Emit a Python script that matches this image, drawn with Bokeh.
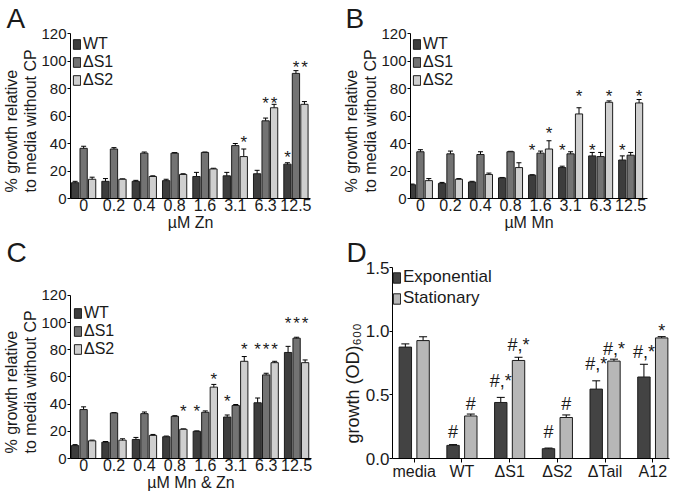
from bokeh.plotting import figure
from bokeh.models import (ColumnDataSource, Whisker, TeeHead, Legend, LegendItem,
                          FixedTicker, Range1d, NumeralTickFormatter, Title)
from bokeh.layouts import column, row
from bokeh.embed import file_html
from bokeh.resources import INLINE
from bokeh.core.properties import value

FONT = "Liberation Sans"
INK = "#1a1a1a"

# ---------------- data ----------------
doses = ["0", "0.2", "0.4", "0.8", "1.6", "3.1", "6.3", "12.5"]
strains = ["WT", "ΔS1", "ΔS2"]

# Panel A: µM Zn
zn_wt = [11.5, 12.5, 12.5, 13, 16, 16.5, 18, 25]
zn_wt_err = [1, 2, 0.7, 1, 3, 2.5, 2.5, 1]
zn_s1 = [36.5, 36, 33, 33, 33.5, 38.5, 56.5, 91]
zn_s1_err = [1.5, 1, 0.8, 0.4, 0.3, 1.5, 2, 2]
zn_s2 = [14, 14, 16, 17.5, 21.5, 30.5, 66, 68.5]
zn_s2_err = [1.5, 0.3, 0.5, 0.5, 0.5, 5.5, 2.5, 2]
zn_star_group = [5, 6, 6, 7, 7, 7]
zn_star_series = [2, 1, 2, 0, 1, 2]
zn_star_y = [43.5, 72, 72, 33, 98.5, 98.5]

# Panel B: µM Mn
mn_wt = [10, 11, 12, 15, 17, 22.5, 31, 28]
mn_wt_err = [0.5, 0.7, 0.5, 0.3, 0.3, 1, 2.5, 3]
mn_s1 = [34, 32.5, 32, 34, 33, 32.5, 30.5, 31.5]
mn_s1_err = [1.5, 2, 2, 0.3, 1.5, 1.5, 3, 2]
mn_s2 = [13, 14, 17.5, 22.5, 36, 61.5, 70, 69.5]
mn_s2_err = [1.5, 0.5, 1, 3.5, 6, 4.5, 1, 2.5]
mn_star_group = [4, 4, 5, 5, 6, 6, 7, 7]
mn_star_series = [0, 2, 0, 2, 0, 2, 0, 2]
mn_star_y = [38, 50, 38, 77, 38, 77, 38, 77]

# Panel C: µM Mn & Zn
mz_wt = [9.5, 12, 14, 16, 20, 30.5, 41, 78]
mz_wt_err = [0.7, 0.5, 1.5, 0.5, 0.3, 1.5, 3.5, 4.5]
mz_s1 = [36, 33.5, 33, 31, 34, 39, 61.5, 88.5]
mz_s1_err = [2, 0.3, 1.2, 0.5, 1, 0.7, 1.2, 0.7]
mz_s2 = [13, 13.5, 17, 21.5, 52.5, 71.5, 70.5, 70.5]
mz_s2_err = [0.5, 1, 0.7, 0.3, 2, 3.5, 1, 2]
mz_star_group = [3, 4, 4, 5, 5, 6, 6, 6, 7, 7, 7]
mz_star_series = [2, 0, 2, 0, 2, 0, 1, 2, 0, 1, 2]
mz_star_y = [37.5, 37.5, 61, 45, 83, 83, 83, 83, 102, 102, 102]

# Panel D: growth (OD)600
d_groups = ["media", "WT", "ΔS1", "ΔS2", "ΔTail", "A12"]
d_phases = ["Exponential", "Stationary"]
d_exp = [0.875, 0.103, 0.44, 0.077, 0.545, 0.64]
d_exp_err = [0.025, 0.006, 0.04, 0.005, 0.065, 0.1]
d_stat = [0.926, 0.334, 0.77, 0.322, 0.765, 0.947]
d_stat_err = [0.03, 0.015, 0.025, 0.02, 0.015, 0.01]
d_exp_mark = ["", "#", "#,*", "#", "#,*", "#,*"]
d_exp_mark_y = [0, 0.206, 0.61, 0.206, 0.74, 0.84]
d_stat_mark = ["", "#", "#,*", "#", "#,*", "*"]
d_stat_mark_y = [0, 0.43, 0.89, 0.43, 0.857, 1.03]

strain_colors = ["#3d3d3d", "#737373", "#cfcfcf"]
phase_colors = ["#434343", "#b7b7b7"]
EDGE = "#1c1c1c"

YLAB_LINES = ["% growth relative", "to media without CP"]


def side_title(p, text, size, offset, side="left"):
    t = Title(text=text, align="left", offset=offset, standoff=0,
              text_font=FONT, text_font_size=size, text_font_style="normal",
              text_line_height=1.0, text_color=INK, vertical_align="bottom")
    p.add_layout(t, side)


def base_fig(letter, letter_off, width, height, bl, br, bt, bb, xr, yr, yticks, ytick_size):
    p = figure(width=width, height=height, x_range=Range1d(*xr), y_range=Range1d(*yr),
               output_backend="svg", toolbar_location=None, title=letter,
               min_border_left=bl, min_border_right=br,
               min_border_top=bt, min_border_bottom=bb)
    p.title.align = "left"
    p.title.offset = letter_off
    p.title.standoff = 0
    p.title.text_font = FONT
    p.title.text_font_size = "28px"
    p.title.text_line_height = 1.0
    p.title.text_font_style = "normal"
    p.title.text_color = INK
    p.xgrid.visible = False
    p.ygrid.visible = False
    p.outline_line_color = None
    p.background_fill_color = "white"
    p.border_fill_color = "white"
    for ax in (p.xaxis, p.yaxis):
        ax.axis_line_color = "black"
        ax.axis_line_width = 1
        ax.major_tick_line_color = "black"
        ax.minor_tick_line_color = None
        ax.major_label_text_font = FONT
        ax.major_label_text_color = INK
        ax.major_label_text_line_height = 1.0
        ax.axis_label_text_font = FONT
        ax.axis_label_text_font_style = "normal"
        ax.axis_label_text_color = INK
        ax.axis_label_text_line_height = 1.0
    p.yaxis.ticker = FixedTicker(ticks=yticks)
    p.yaxis.bounds = (yticks[0], yticks[-1])
    p.yaxis.major_tick_in = 0
    p.yaxis.major_tick_out = 3
    p.yaxis.major_label_standoff = 1
    p.yaxis.major_label_text_font_size = ytick_size
    p.xaxis.major_label_standoff = 0
    p.xaxis.major_label_text_font_size = "16px"
    p.xaxis.axis_label_standoff = 0
    return p


BAR_W = 0.24
BAR_OFF = 0.28


def bar_panel(p, series, star_g, star_s, star_y, xlabel, ylab_offset, legend_loc):
    p.xaxis.ticker = FixedTicker(ticks=list(range(len(doses))))
    p.xaxis.major_label_overrides = {i: d for i, d in enumerate(doses)}
    p.xaxis.major_tick_out = 0
    p.xaxis.major_tick_in = 0
    p.xaxis.axis_label = xlabel
    p.xaxis.axis_label_text_font_size = "16px"
    # two-line y label: inner line first (closest to the axis)
    side_title(p, YLAB_LINES[1], "16px", ylab_offset)
    side_title(p, YLAB_LINES[0], "16px", ylab_offset)
    items = []
    for j, (vals, errs) in enumerate(series):
        xs = [i + (j - 1) * BAR_OFF for i in range(len(vals))]
        src = ColumnDataSource(dict(x=xs, top=vals,
                                    upper=[v + e for v, e in zip(vals, errs)],
                                    lower=[v - e for v, e in zip(vals, errs)]))
        r = p.vbar(x="x", top="top", width=BAR_W, source=src,
                   fill_color=strain_colors[j], line_color=EDGE, line_width=1)
        p.add_layout(Whisker(source=src, base="x", upper="upper", lower="lower",
                             line_color="black", line_width=1,
                             upper_head=TeeHead(size=5, line_color="black", line_width=1),
                             lower_head=TeeHead(size=5, line_color="black", line_width=1)))
        items.append(LegendItem(label=strains[j], renderers=[r]))
    sx = [g + (s - 1) * BAR_OFF for g, s in zip(star_g, star_s)]
    p.text(x=sx, y=star_y, text=["*"] * len(sx), text_font=value(FONT),
           text_font_size="17px", text_align="center", text_baseline="middle",
           y_offset=4, text_color=INK)
    legend = Legend(items=items, location=legend_loc, margin=2, padding=0,
                    spacing=0, glyph_width=9, glyph_height=12, label_height=16,
                    label_standoff=2, label_text_font=FONT, label_text_font_size="16px",
                    label_text_line_height=1.0, label_text_color=INK,
                    background_fill_alpha=0, border_line_color=None)
    p.add_layout(legend)


H1 = 234
H2 = 260

# ---------- Panel A ----------
pA = base_fig("A", -64, 340, H1, 67, 30, 33, 36, (-0.433, 7.48), (0, 120),
              [0, 20, 40, 60, 80, 100, 120], "15px")
bar_panel(pA, [(zn_wt, zn_wt_err), (zn_s1, zn_s1_err), (zn_s2, zn_s2_err)],
          zn_star_group, zn_star_series, zn_star_y, "µM Zn", 6, "top_left")

# ---------- Panel B ----------
pB = base_fig("B", -65, 339, H1, 67, 32, 33, 36, (-0.33, 7.56), (0, 120),
              [0, 20, 40, 60, 80, 100, 120], "15px")
bar_panel(pB, [(mn_wt, mn_wt_err), (mn_s1, mn_s1_err), (mn_s2, mn_s2_err)],
          mn_star_group, mn_star_series, mn_star_y, "µM Mn", 6, "top_left")

# ---------- Panel C ----------
pC = base_fig("C", -64, 340, H2, 67, 29, 30, 36, (-0.43, 7.49), (0, 140.5),
              [0, 20, 40, 60, 80, 100, 120], "15px")
bar_panel(pC, [(mz_wt, mz_wt_err), (mz_s1, mz_s1_err), (mz_s2, mz_s2_err)],
          mz_star_group, mz_star_series, mz_star_y, "µM Mn & Zn", 5, (3, 100))

# ---------- Panel D ----------
pD = base_fig("D", -46, 339, H2, 48, 10, 30, 34, (-0.455, 5.35), (0, 1.5),
              [0, 0.5, 1.0, 1.5], "17px")
pD.yaxis.formatter = NumeralTickFormatter(format="0.0")
pD.yaxis.major_label_standoff = 0
side_title(pD, "growth (OD)₆₀₀", "18px", 15)
pD.xaxis.ticker = FixedTicker(ticks=list(range(len(d_groups))))
pD.xaxis.major_label_overrides = {i: g for i, g in enumerate(d_groups)}
pD.xaxis.major_tick_out = 4
pD.xaxis.major_tick_in = 0
D_W = 0.26
D_OFF = 0.186
d_items = []
for j, (vals, errs, marks, mark_y) in enumerate([(d_exp, d_exp_err, d_exp_mark, d_exp_mark_y),
                                                 (d_stat, d_stat_err, d_stat_mark, d_stat_mark_y)]):
    xs = [i + (2 * j - 1) * D_OFF for i in range(len(vals))]
    src = ColumnDataSource(dict(x=xs, top=vals,
                                upper=[v + e for v, e in zip(vals, errs)],
                                lower=[v - e for v, e in zip(vals, errs)]))
    r = pD.vbar(x="x", top="top", width=D_W, source=src,
                fill_color=phase_colors[j], line_color=EDGE, line_width=1)
    pD.add_layout(Whisker(source=src, base="x", upper="upper", lower="lower",
                          line_color="black", line_width=1,
                          upper_head=TeeHead(size=8, line_color="black", line_width=1),
                          lower_head=TeeHead(size=8, line_color="black", line_width=1)))
    d_items.append(LegendItem(label=d_phases[j], renderers=[r]))
    mx = [x for x, m in zip(xs, marks) if m]
    my = [y for y, m in zip(mark_y, marks) if m]
    mt = [m for m in marks if m]
    moff = [4 if m == "*" else 0 for m in mt]
    pD.text(x=mx, y=my, text=mt, text_font=value(FONT), text_font_size="18px",
            text_align="center", text_baseline="middle", y_offset=moff,
            text_color=INK)
legD = Legend(items=d_items, location="top_left", margin=0, padding=0,
              spacing=1, glyph_width=9, glyph_height=13, label_height=18,
              label_standoff=2, label_text_font=FONT, label_text_font_size="17px",
              label_text_line_height=1.0, label_text_color=INK,
              background_fill_alpha=0, border_line_color=None)
pD.add_layout(legD)

layout = column(row(pA, pB), row(pC, pD))
open("out.html", "w").write(file_html(layout, INLINE))
